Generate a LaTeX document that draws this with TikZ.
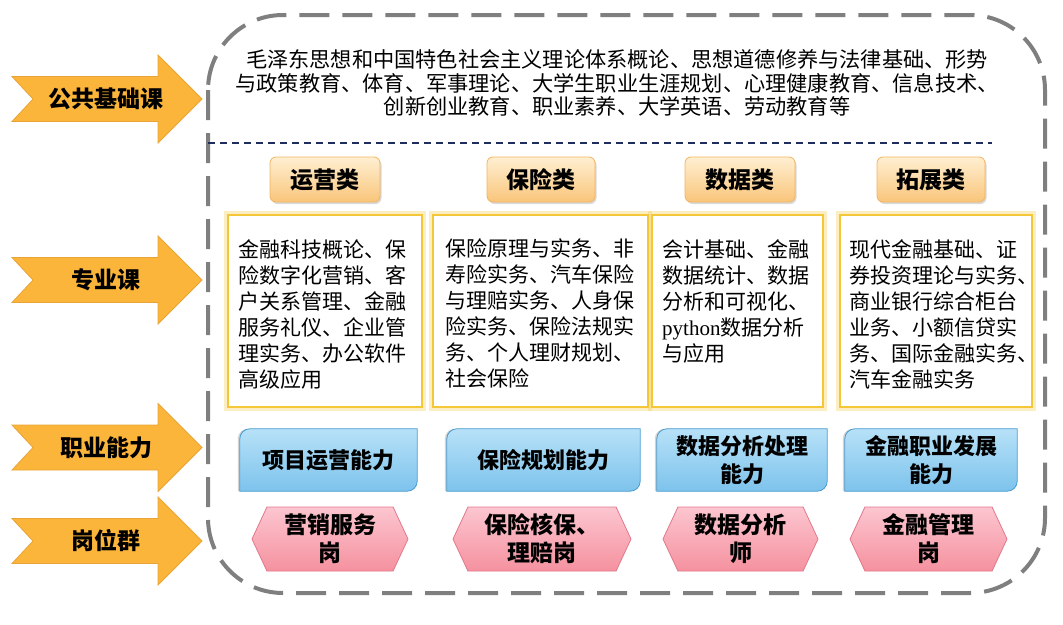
\documentclass[tikz,border=0pt]{standalone}
\usepackage{fontspec}
\setmainfont{Noto Sans CJK SC}
\newfontfamily\serifpy{Liberation Serif}
\usetikzlibrary{shapes.symbols,shadows,backgrounds}
\definecolor{arrowfill}{HTML}{FBB53A}
\definecolor{arrowline}{HTML}{E9A437}
\definecolor{borderGray}{HTML}{7F7F7F}
\definecolor{navy}{HTML}{1F2D5C}
\definecolor{catTop}{HTML}{FFEFD2}
\definecolor{catBot}{HTML}{F9C57A}
\definecolor{catLine}{HTML}{F2B45E}
\definecolor{gold}{HTML}{F3C737}
\definecolor{blueTop}{HTML}{B7E1F8}
\definecolor{blueBot}{HTML}{7DC3EC}
\definecolor{blueLine}{HTML}{4A9CD0}
\definecolor{pinkTop}{HTML}{FCC6D0}
\definecolor{pinkBot}{HTML}{F5919F}
\definecolor{pinkLine}{HTML}{E2788C}
\tikzset{
 rowarrow/.style={fill=arrowfill, draw=arrowline, line width=0.8pt, line join=miter},
 arrowlabel/.style={inner sep=0pt, font=\fontsize{23}{26}\selectfont\bfseries},
 outline/.style={draw=borderGray, line width=4pt, dash pattern=on 30pt off 13pt, rounded corners=75pt},
 divider/.style={draw=navy, line width=2pt, dash pattern=on 7pt off 5pt},
 topcourse/.style={align=center, inner sep=0pt, font=\fontsize{21.2}{23.5}\selectfont},
 catbox/.style={rectangle, rounded corners=6pt, minimum width=110pt, minimum height=45pt, top color=catTop, bottom color=catBot, draw=catLine, line width=0.8pt, drop shadow={shadow xshift=1.5pt, shadow yshift=-2pt, opacity=0.3}, font=\fontsize{23}{26}\selectfont\bfseries},
 coursebox/.style={rectangle, minimum height=192pt, fill=white, draw=gold, line width=2.5pt, preaction={draw=gold, draw opacity=0.3, line width=8pt}},
 coursetext/.style={anchor=north west, inner sep=0pt, align=left, font=\fontsize{21}{26}\selectfont},
 skillnode/.style={rectangle, minimum height=62pt, inner sep=0pt, align=center, font=\fontsize{22}{28}\selectfont\bfseries},
 skillfill/.style={top color=blueTop, bottom color=blueBot, draw=blueLine, line width=0.8pt, drop shadow={shadow xshift=-2pt, shadow yshift=0pt, opacity=0.35}},
 jobhex/.style={signal, signal to=west and east, signal pointer angle=130, minimum height=64pt, inner sep=0pt, top color=pinkTop, bottom color=pinkBot, draw=pinkLine, line width=0.8pt, align=center, font=\fontsize{23}{28}\selectfont\bfseries},
}
\newcommand\RowArrow[3]{%
 \begin{scope}[yshift=-#2pt]
 \path[rowarrow] (12,22.5) -- (158,22.5) -- (158,44) -- (202,0) -- (158,-44) -- (158,-22.5) -- (12,-22.5) -- (33,0) -- cycle;
 \node[arrowlabel] (#1) at (106,0) {#3};
 \end{scope}}
\newcommand\SkillShape[1]{%
 \path[skillfill] (#1.south west) -- ([yshift=-10pt]#1.north west) arc[start angle=180,end angle=90,radius=10pt] -- (#1.north east) -- ([yshift=10pt]#1.south east) arc[start angle=0,end angle=-90,radius=10pt] -- cycle;}
\begin{document}
\begin{tikzpicture}[x=1pt,y=1pt]
\useasboundingbox (0,0) rectangle (1063,-624);
% outer frame and divider
\path[outline] (208,-15) rectangle (1045,-593);
\coordinate (divL) at (208,-143);
\coordinate (divR) at (992,-143);
\draw[divider] (divL) -- (divR);
% row arrows
\RowArrow{aPub}{99}{公共基础课}
\RowArrow{aMaj}{280}{专业课}
\RowArrow{aSkill}{447.5}{职业能力}
\RowArrow{aJob}{541}{岗位群}
% public courses
\node[topcourse] (pub) at (617,-83) {毛泽东思想和中国特色社会主义理论体系概论、思想道德修养与法律基础、形势\\与政策教育、体育、军事理论、大学生职业生涯规划、心理健康教育、信息技术、\\创新创业教育、职业素养、大学英语、劳动教育等};
% categories
\node[catbox] (c1) at (325,-179.5) {运营类};
\node[catbox, minimum width=108pt] (c2) at (541,-179.5) {保险类};
\node[catbox] (c3) at (740,-179.5) {数据类};
\node[catbox, minimum width=108pt] (c4) at (931,-179.5) {拓展类};
% course boxes
\node[coursebox, minimum width=194pt] (b1) at (325,-311) {};
\node[coursebox, minimum width=215pt] (b2) at (540.5,-311) {};
\node[coursebox, minimum width=171pt] (b3) at (737.5,-311) {};
\node[coursebox, minimum width=192pt] (b4) at (936,-311) {};
\node[coursetext] (t1) at (238,-239) {金融科技概论、保\\险数字化营销、客\\户关系管理、金融\\服务礼仪、企业管\\理实务、办公软件\\高级应用};
\node[coursetext] (t2) at (445,-239) {保险原理与实务、非\\寿险实务、汽车保险\\与理赔实务、人身保\\险实务、保险法规实\\务、个人理财规划、\\社会保险};
\node[coursetext] (t3) at (662,-239) {会计基础、金融\\数据统计、数据\\分析和可视化、\\{\serifpy python}数据分析\\与应用};
\node[coursetext] (t4) at (849,-239) {现代金融基础、证\\券投资理论与实务、\\商业银行综合柜台\\业务、小额信贷实\\务、国际金融实务、\\汽车金融实务};
% skills
\node[skillnode, minimum width=177pt] (s1) at (328.5,-460) {项目运营能力};
\node[skillnode, minimum width=193pt] (s2) at (543.5,-460) {保险规划能力};
\node[skillnode, minimum width=170pt] (s3) at (742,-460) {数据分析处理\\能力};
\node[skillnode, minimum width=172pt] (s4) at (931,-460) {金融职业发展\\能力};
\begin{scope}[on background layer]
\SkillShape{s1}
\SkillShape{s2}
\SkillShape{s3}
\SkillShape{s4}
\end{scope}
% jobs
\node[jobhex, minimum width=156pt] (j1) at (330,-539) {营销服务\\岗};
\node[jobhex, minimum width=178pt] (j2) at (542,-539) {保险核保、\\理赔岗};
\node[jobhex, minimum width=155pt] (j3) at (740.5,-539) {数据分析\\师};
\node[jobhex, minimum width=157pt] (j4) at (928.5,-539) {金融管理\\岗};
\end{tikzpicture}
\end{document}
